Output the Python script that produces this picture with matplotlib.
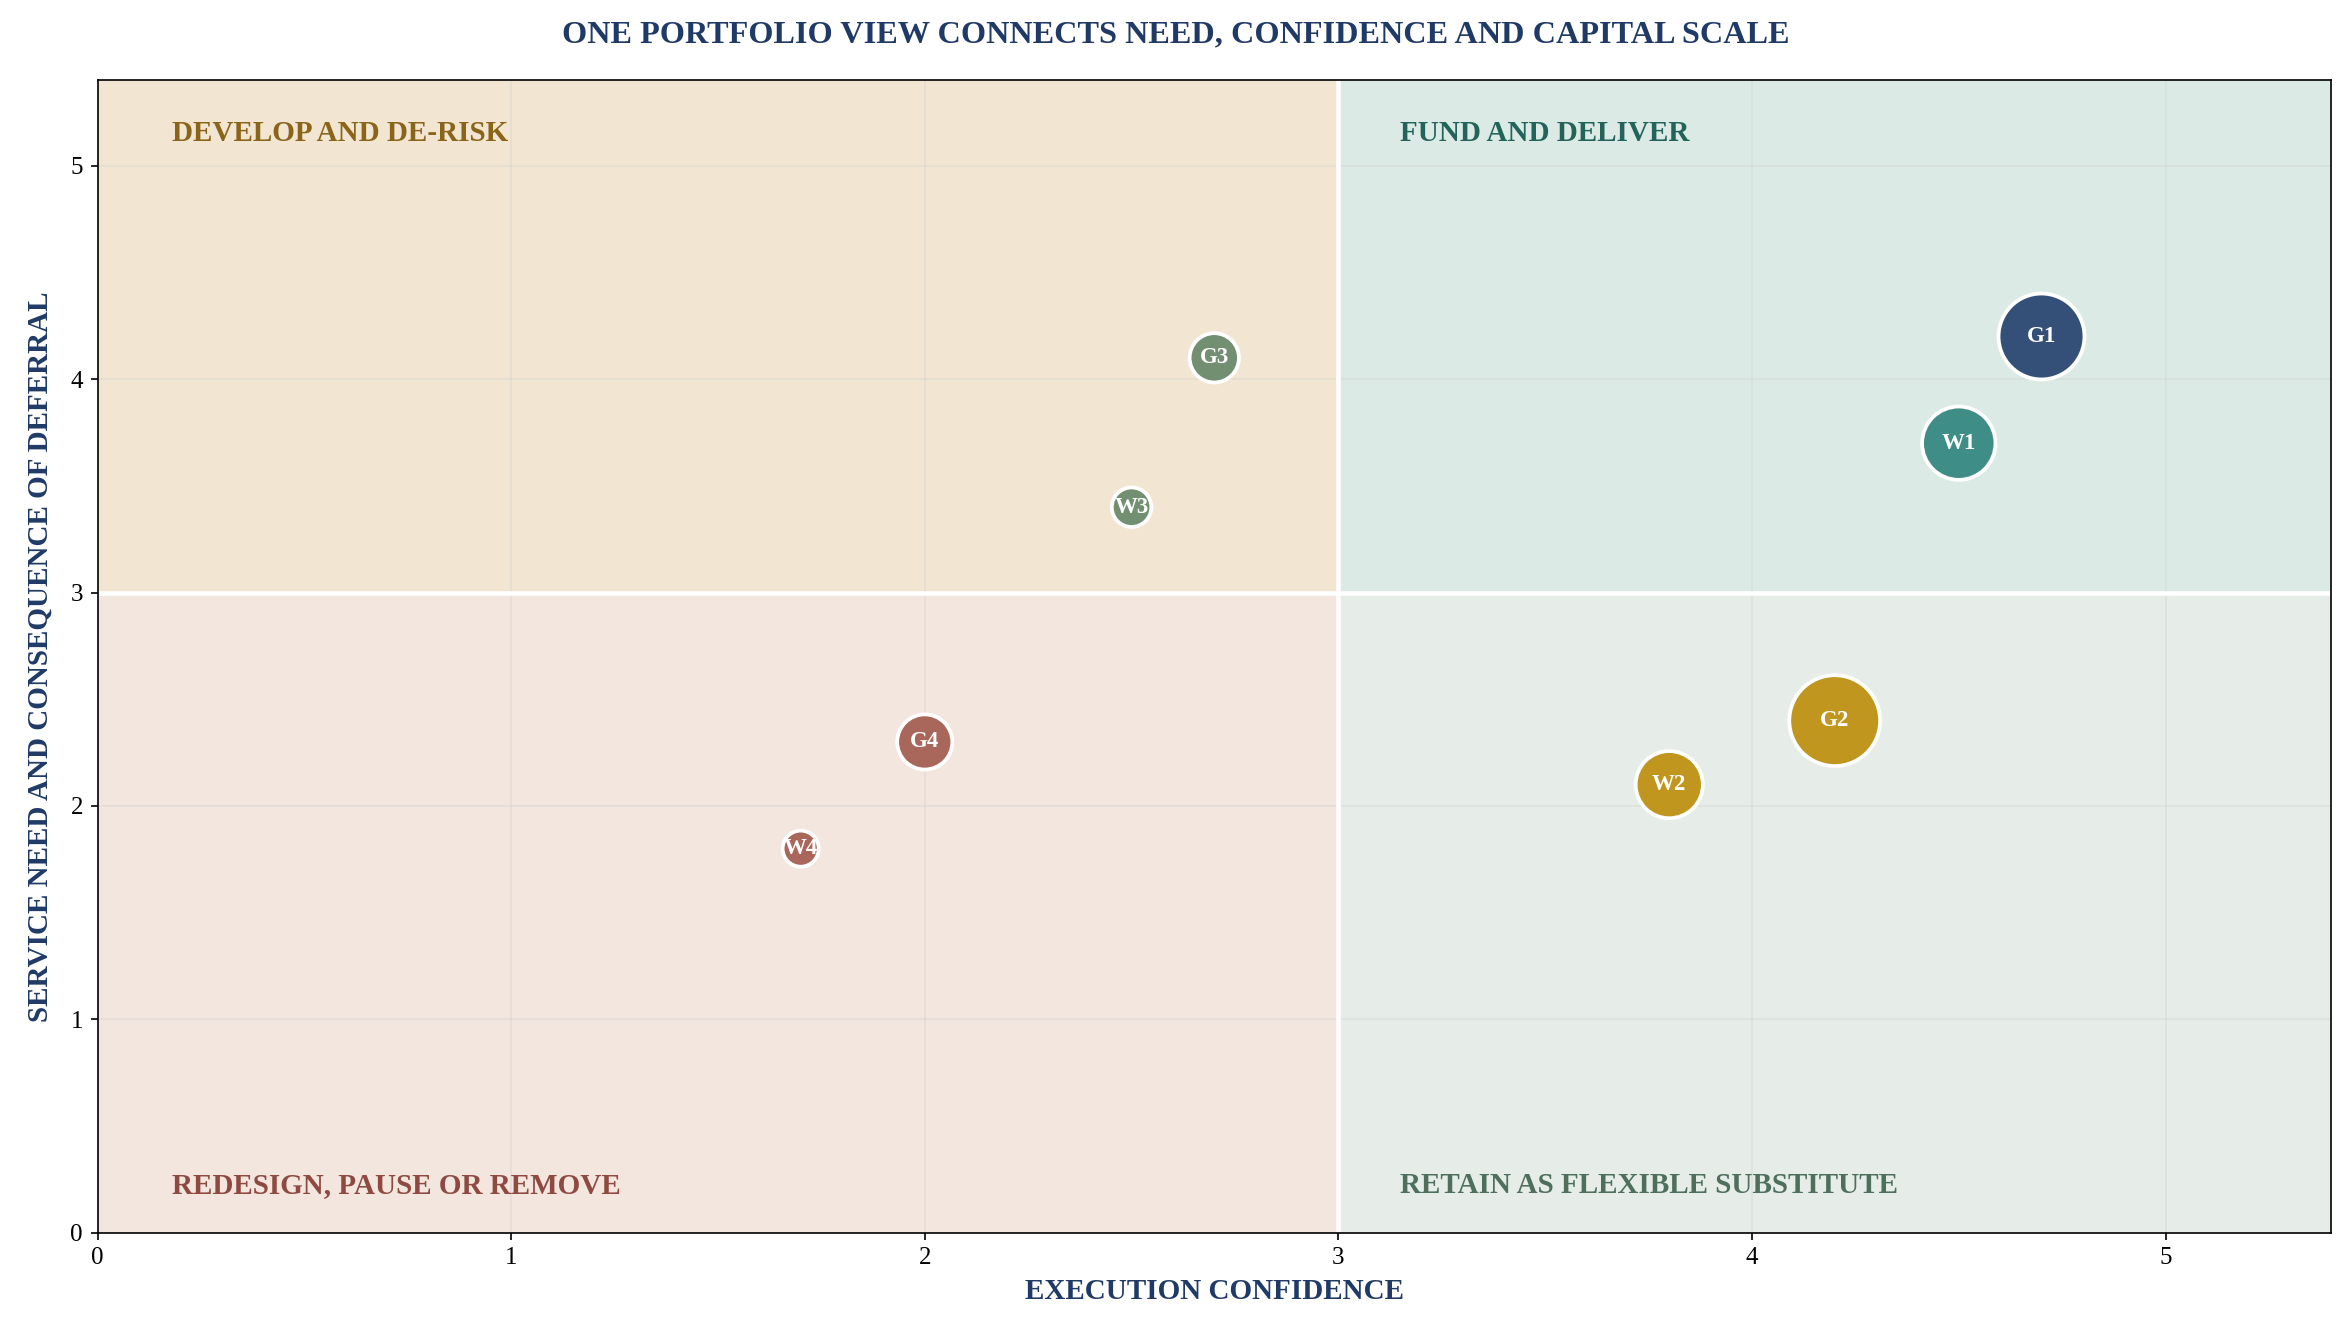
import matplotlib
matplotlib.use("Agg")
import matplotlib.pyplot as plt

plt.rcParams['font.family'] = ['Liberation Serif', 'DejaVu Serif']

# Données du portefeuille
labels = ["G1", "W1", "G2", "W2", "G3", "W3", "G4", "W4"]
confidence = [4.7, 4.5, 4.2, 3.8, 2.7, 2.5, 2.0, 1.7]
need = [4.2, 3.7, 2.4, 2.1, 4.1, 3.4, 2.3, 1.8]
capital = [85, 62, 95, 52, 28, 18, 35, 15]
colors = ["#344f78", "#3f8d87", "#c1961f", "#c1961f", "#728f72", "#728f72", "#a9665a", "#a9665a"]

navy = "#1f3a66"

fig = plt.figure(figsize=(2351/150, 1340/150), dpi=150)
ax = fig.add_axes([0.0415, 0.08, 0.95, 0.86])
ax.set_xlim(0, 5.4)
ax.set_ylim(0, 5.4)

# Quadrants
ax.axvspan(0, 3, ymin=3/5.4, ymax=1, color="#f2e6d2", zorder=0, lw=0)
ax.axvspan(3, 5.4, ymin=3/5.4, ymax=1, color="#dceae6", zorder=0, lw=0)
ax.axvspan(0, 3, ymin=0, ymax=3/5.4, color="#f3e6df", zorder=0, lw=0)
ax.axvspan(3, 5.4, ymin=0, ymax=3/5.4, color="#e6ede8", zorder=0, lw=0)
ax.grid(True, color="#cccccc", alpha=0.35, lw=0.8, zorder=1)
ax.axvline(3, color="white", lw=2.2, zorder=2)
ax.axhline(3, color="white", lw=2.2, zorder=2)

quad = dict(fontsize=14, fontweight="bold", va="center", ha="left", zorder=3)
ax.text(0.18, 5.15, "DEVELOP AND DE-RISK", color="#8a6418", **quad)
ax.text(3.15, 5.15, "FUND AND DELIVER", color="#23645a", **quad)
ax.text(0.18, 0.22, "REDESIGN, PAUSE OR REMOVE", color="#8e4a40", **quad)
ax.text(3.15, 0.22, "RETAIN AS FLEXIBLE SUBSTITUTE", color="#4d6f5c", **quad)

ax.scatter(confidence, need, s=[c * 20 for c in capital], c=colors,
           edgecolors="white", linewidths=1.8, zorder=4)
for lab, x, y in zip(labels, confidence, need):
    ax.text(x, y, lab, color="white", fontsize=11, fontweight="bold",
            ha="center", va="center", zorder=5)

ax.set_xticks([0, 1, 2, 3, 4, 5])
ax.set_yticks([0, 1, 2, 3, 4, 5])
ax.tick_params(labelsize=12)
ax.set_xlabel("EXECUTION CONFIDENCE", fontsize=14, fontweight="bold", color=navy, labelpad=4)
ax.set_ylabel("SERVICE NEED AND CONSEQUENCE OF DEFERRAL", fontsize=14, fontweight="bold", color=navy, labelpad=8)
fig.suptitle("ONE PORTFOLIO VIEW CONNECTS NEED, CONFIDENCE AND CAPITAL SCALE",
             fontsize=15.5, fontweight="bold", color=navy, y=0.985)

fig.savefig("out.png", dpi=150)
